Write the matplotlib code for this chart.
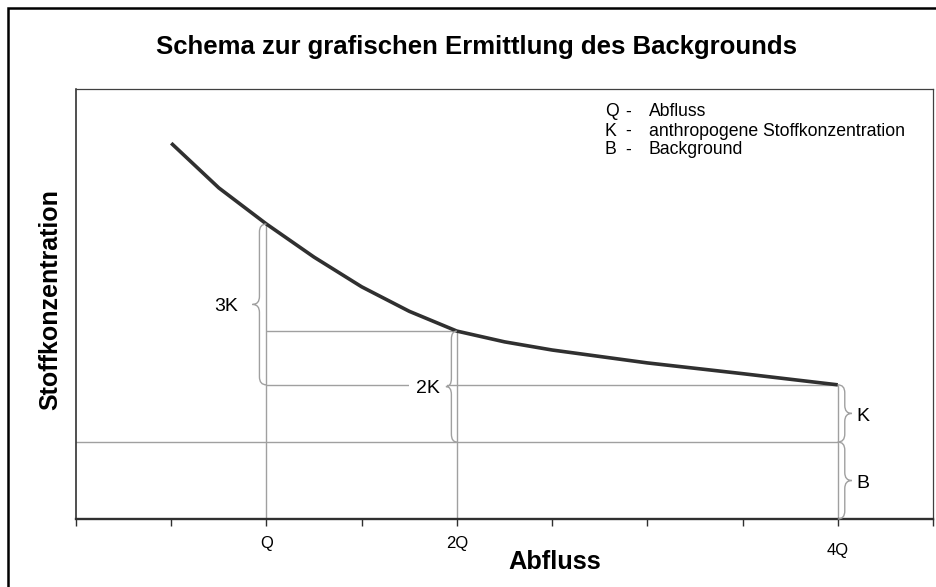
import matplotlib
matplotlib.use("Agg")
import matplotlib.pyplot as plt
import matplotlib.transforms as mtransforms
from matplotlib.path import Path
from matplotlib.patches import PathPatch, Rectangle

plt.rcParams['font.family'] = ['Liberation Sans', 'DejaVu Sans']

# ---- data (x in units of Q, y arbitrary concentration units) ----
curve_x = [0.5, 0.75, 1.0, 1.25, 1.5, 1.75, 2.0, 2.25, 2.5, 3.0, 3.5, 4.0]
curve_y = [87.4, 77.0, 68.6, 60.9, 54.0, 48.3, 43.7, 41.2, 39.3, 36.3, 33.8, 31.2]
background = 17.9
q_points = [1.0, 2.0, 4.0]
tick_pos = [0, 0.5, 1.0, 1.5, 2.0, 2.5, 3.0, 3.5, 4.0, 4.5]
tick_labels = ['', '', 'Q', '', '2Q', '', '', '', '4Q', '']
legend_keys = ['Q', 'K', 'B']
legend_desc = ['Abfluss', 'anthropogene Stoffkonzentration', 'Background']

level_q = curve_y[curve_x.index(1.0)]
level_2q = curve_y[curve_x.index(2.0)]
level_4q = curve_y[curve_x.index(4.0)]

W, H = 937, 587
fig = plt.figure(figsize=(W / 100, H / 100), dpi=100)
ax = fig.add_axes([76 / W, 68 / H, 857 / W, 430 / H])
ax.set_xlim(0, 4.5)
ax.set_ylim(0, 100)

grey = '#a0a0a0'
# curve
ax.plot(curve_x, curve_y, color='#303030', lw=2.6, solid_capstyle='butt',
        solid_joinstyle='round', zorder=5)

# helper lines
ax.vlines(q_points[0], 0, level_q, color=grey, lw=1.0, zorder=2)
ax.vlines(q_points[1], 0, level_2q, color=grey, lw=1.0, zorder=2)
ax.vlines(q_points[2], 0, level_4q, color=grey, lw=1.0, zorder=2)
ax.hlines(level_2q, q_points[0], q_points[1], color=grey, lw=1.0, zorder=2)
ax.hlines(level_4q, q_points[0], q_points[2], color=grey, lw=1.0, zorder=2)
ax.hlines(background, 0, q_points[2], color=grey, lw=1.0, zorder=2)

# axes styling
for s in ['top', 'right']:
    ax.spines[s].set_color('#404040')
    ax.spines[s].set_linewidth(0.9)
ax.spines['left'].set_color('#202020')
ax.spines['left'].set_linewidth(1.1)
ax.spines['bottom'].set_color('#303030')
ax.spines['bottom'].set_linewidth(1.7)
ax.set_yticks([])
ax.set_xticks(tick_pos)
ax.set_xticklabels(tick_labels, fontsize=12)
ax.tick_params(axis='x', direction='out', length=5, width=1, color='#303030', pad=7)
for lab in ax.get_xticklabels():
    if lab.get_text() == '4Q':
        lab.set_transform(lab.get_transform() +
                          mtransforms.ScaledTranslation(0, -7 / 100, fig.dpi_scale_trans))


def brace(x, y0, y1, h, tip_r=8, end_r=8, color=grey):
    """Curly brace along a vertical segment at data x from y0 to y1.
    h>0: tip to the right, h<0: tip to the left (pixels)."""
    X, Y0 = ax.transData.transform((x, y0))
    _, Y1 = ax.transData.transform((x, y1))
    Ym = (Y0 + Y1) / 2
    verts = [(X, Y1), (X + h, Y1), (X + h, Y1 - end_r),
             (X + h, Ym + tip_r),
             (X + h, Ym), (X + 2 * h, Ym),
             (X + h, Ym), (X + h, Ym - tip_r),
             (X + h, Y0 + end_r),
             (X + h, Y0), (X, Y0)]
    codes = [Path.MOVETO, Path.CURVE3, Path.CURVE3, Path.LINETO,
             Path.CURVE3, Path.CURVE3, Path.CURVE3, Path.CURVE3,
             Path.LINETO, Path.CURVE3, Path.CURVE3]
    p = PathPatch(Path(verts, codes), fill=False, edgecolor=color, lw=1.0,
                  transform=mtransforms.IdentityTransform(), zorder=6, clip_on=False)
    fig.add_artist(p)


def brace_label(txt, x, ymid, dx, ha, white=False, dy=-2):
    kw = dict(xy=(x, ymid), xytext=(dx, dy), textcoords='offset pixels',
              ha=ha, va='center', fontsize=14, zorder=4)
    if white:
        kw['bbox'] = dict(boxstyle='square,pad=0.35', fc='white', ec='none')
    ax.annotate(txt, **kw)


brace(q_points[0], level_4q, level_q, -7)
brace_label('3K', q_points[0], (level_4q + level_q) / 2, -28, 'right')
brace(q_points[1], background, level_2q, -5.5)
brace_label('2K', q_points[1], (background + level_2q) / 2, -17, 'right', white=True)
brace(q_points[2], background, level_4q, 7)
brace_label('K', q_points[2], (background + level_4q) / 2, 19, 'left', dy=-3)
brace(q_points[2], 0, background, 7)
brace_label('B', q_points[2], background / 2, 19, 'left', dy=-3)

# legend text
for i, (k, d) in enumerate(zip(legend_keys, legend_desc)):
    yy = 1 - (112 + 19 * i) / H
    fig.text(605 / W, yy, k, fontsize=12.7, ha='left', va='center')
    fig.text(628 / W, yy, '-', fontsize=12.7, ha='center', va='center')
    fig.text(649 / W, yy, d, fontsize=12.7, ha='left', va='center')

# titles
fig.text(477 / W, 1 - 47 / H, 'Schema zur grafischen Ermittlung des Backgrounds',
         fontsize=18.5, fontweight='bold', ha='center', va='center')
fig.text(555 / W, 1 - 562 / H, 'Abfluss', fontsize=18.3, fontweight='bold',
         ha='center', va='center')
fig.text(50 / W, 1 - 300 / H, 'Stoffkonzentration', fontsize=18, fontweight='bold',
         ha='center', va='center', rotation=90)

# outer frame
fig.add_artist(Rectangle((8 / W, -0.05), 1.1, 1 - 8 / H + 0.05, transform=fig.transFigure,
                         fill=False, edgecolor='black', lw=1.8, clip_on=False))

fig.savefig('out.png', dpi=100)
